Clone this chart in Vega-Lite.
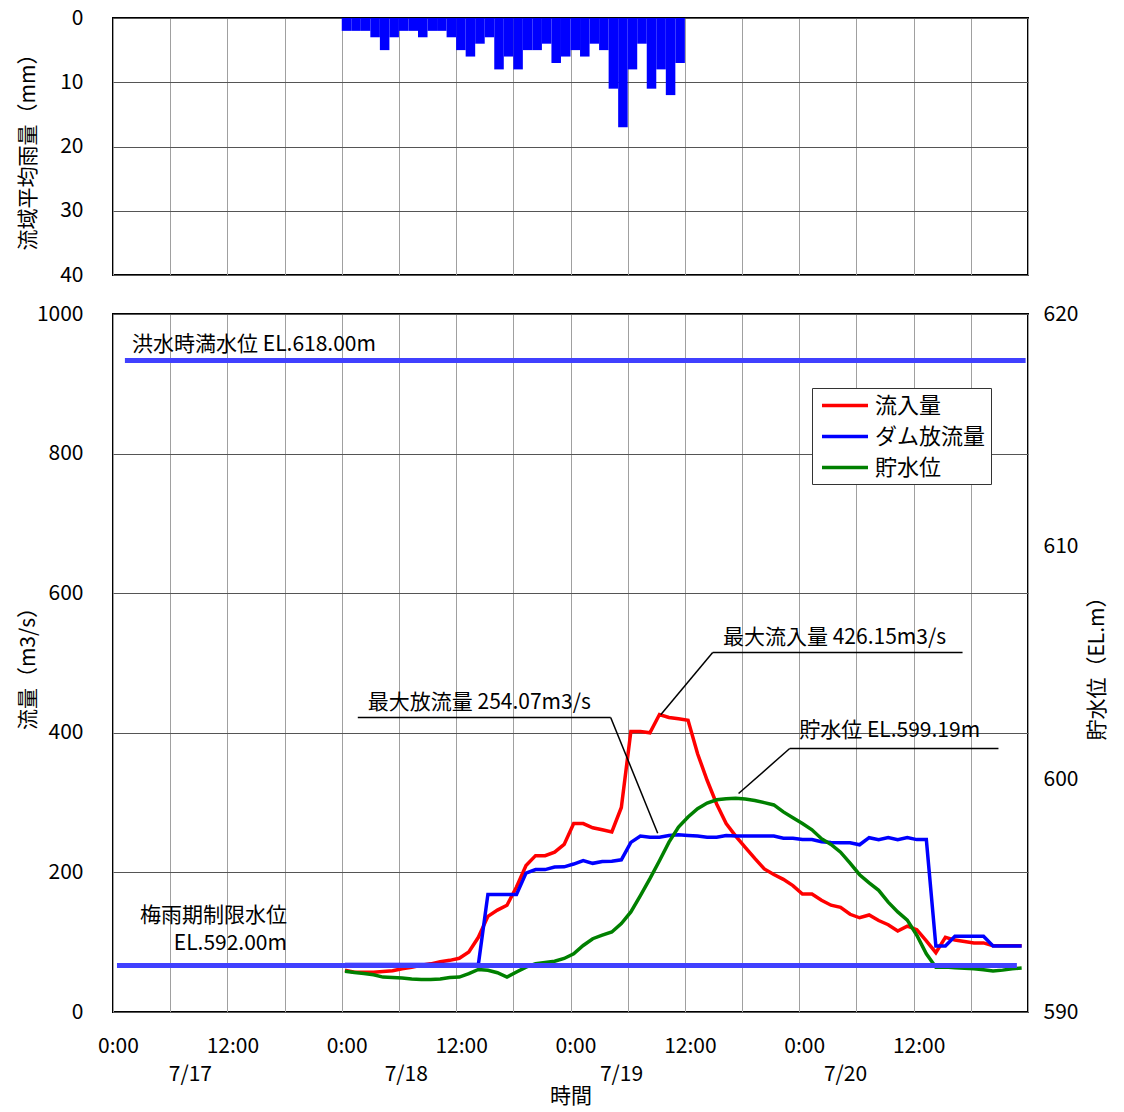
{
  "$schema": "https://vega.github.io/schema/vega-lite/v6.json",
  "background": "white",
  "padding": {"left": 16, "top": 6, "right": 5, "bottom": 4},
  "bounds": "flush",
  "spacing": 39,
  "config": {
    "view": {"stroke": "#000", "strokeWidth": 2},
    "font": "Noto Sans CJK JP",
    "axis": {
      "labelFontSize": 21, "titleFontSize": 21, "titleFontWeight": "normal",
      "labelColor": "#000", "titleColor": "#000", "tickColor": "#000",
      "domain": false, "labelOverlap": false
    },
    "text": {"fontSize": 21, "color": "#000"}
  },
  "datasets": {
    "rain": [
      {"start": "2020-07-18T00:00", "end": "2020-07-18T01:00", "rain": 2},
      {"start": "2020-07-18T01:00", "end": "2020-07-18T02:00", "rain": 2},
      {"start": "2020-07-18T02:00", "end": "2020-07-18T03:00", "rain": 2},
      {"start": "2020-07-18T03:00", "end": "2020-07-18T04:00", "rain": 3},
      {"start": "2020-07-18T04:00", "end": "2020-07-18T05:00", "rain": 5},
      {"start": "2020-07-18T05:00", "end": "2020-07-18T06:00", "rain": 3},
      {"start": "2020-07-18T06:00", "end": "2020-07-18T07:00", "rain": 2},
      {"start": "2020-07-18T07:00", "end": "2020-07-18T08:00", "rain": 2},
      {"start": "2020-07-18T08:00", "end": "2020-07-18T09:00", "rain": 3},
      {"start": "2020-07-18T09:00", "end": "2020-07-18T10:00", "rain": 2},
      {"start": "2020-07-18T10:00", "end": "2020-07-18T11:00", "rain": 2},
      {"start": "2020-07-18T11:00", "end": "2020-07-18T12:00", "rain": 3},
      {"start": "2020-07-18T12:00", "end": "2020-07-18T13:00", "rain": 5},
      {"start": "2020-07-18T13:00", "end": "2020-07-18T14:00", "rain": 6},
      {"start": "2020-07-18T14:00", "end": "2020-07-18T15:00", "rain": 4},
      {"start": "2020-07-18T15:00", "end": "2020-07-18T16:00", "rain": 3},
      {"start": "2020-07-18T16:00", "end": "2020-07-18T17:00", "rain": 8},
      {"start": "2020-07-18T17:00", "end": "2020-07-18T18:00", "rain": 6},
      {"start": "2020-07-18T18:00", "end": "2020-07-18T19:00", "rain": 8},
      {"start": "2020-07-18T19:00", "end": "2020-07-18T20:00", "rain": 5},
      {"start": "2020-07-18T20:00", "end": "2020-07-18T21:00", "rain": 5},
      {"start": "2020-07-18T21:00", "end": "2020-07-18T22:00", "rain": 4},
      {"start": "2020-07-18T22:00", "end": "2020-07-18T23:00", "rain": 7},
      {"start": "2020-07-18T23:00", "end": "2020-07-19T00:00", "rain": 6},
      {"start": "2020-07-19T00:00", "end": "2020-07-19T01:00", "rain": 5},
      {"start": "2020-07-19T01:00", "end": "2020-07-19T02:00", "rain": 6},
      {"start": "2020-07-19T02:00", "end": "2020-07-19T03:00", "rain": 4},
      {"start": "2020-07-19T03:00", "end": "2020-07-19T04:00", "rain": 5},
      {"start": "2020-07-19T04:00", "end": "2020-07-19T05:00", "rain": 11},
      {"start": "2020-07-19T05:00", "end": "2020-07-19T06:00", "rain": 17},
      {"start": "2020-07-19T06:00", "end": "2020-07-19T07:00", "rain": 8},
      {"start": "2020-07-19T07:00", "end": "2020-07-19T08:00", "rain": 4},
      {"start": "2020-07-19T08:00", "end": "2020-07-19T09:00", "rain": 11},
      {"start": "2020-07-19T09:00", "end": "2020-07-19T10:00", "rain": 8},
      {"start": "2020-07-19T10:00", "end": "2020-07-19T11:00", "rain": 12},
      {"start": "2020-07-19T11:00", "end": "2020-07-19T12:00", "rain": 7}
    ],
    "obs": [
      {"time": "2020-07-18T00:20", "流入量": 60, "ダム放流量": 68, "貯水位": 591.75},
      {"time": "2020-07-18T01:20", "流入量": 57, "ダム放流量": 68, "貯水位": 591.70},
      {"time": "2020-07-18T02:20", "流入量": 57, "ダム放流量": 68, "貯水位": 591.65},
      {"time": "2020-07-18T03:20", "流入量": 57, "ダム放流量": 68, "貯水位": 591.60},
      {"time": "2020-07-18T04:20", "流入量": 58, "ダム放流量": 68, "貯水位": 591.50},
      {"time": "2020-07-18T05:20", "流入量": 59, "ダム放流量": 68, "貯水位": 591.48},
      {"time": "2020-07-18T06:20", "流入量": 62, "ダム放流量": 68, "貯水位": 591.46},
      {"time": "2020-07-18T07:20", "流入量": 64, "ダム放流量": 68, "貯水位": 591.42},
      {"time": "2020-07-18T08:20", "流入量": 67, "ダム放流量": 68, "貯水位": 591.40},
      {"time": "2020-07-18T09:20", "流入量": 69, "ダム放流量": 68, "貯水位": 591.40},
      {"time": "2020-07-18T10:20", "流入量": 72, "ダム放流量": 68, "貯水位": 591.42},
      {"time": "2020-07-18T11:20", "流入量": 74, "ダム放流量": 68, "貯水位": 591.48},
      {"time": "2020-07-18T12:20", "流入量": 77, "ダム放流量": 68, "貯水位": 591.50},
      {"time": "2020-07-18T13:20", "流入量": 86, "ダム放流量": 68, "貯水位": 591.65},
      {"time": "2020-07-18T14:20", "流入量": 107, "ダム放流量": 68, "貯水位": 591.83},
      {"time": "2020-07-18T15:20", "流入量": 137, "ダム放流量": 168.5, "貯水位": 591.79},
      {"time": "2020-07-18T16:20", "流入量": 146, "ダム放流量": 168.5, "貯水位": 591.69},
      {"time": "2020-07-18T17:20", "流入量": 153, "ダム放流量": 168.5, "貯水位": 591.50},
      {"time": "2020-07-18T18:20", "流入量": 179, "ダム放流量": 168.5, "貯水位": 591.72},
      {"time": "2020-07-18T19:20", "流入量": 210, "ダム放流量": 199, "貯水位": 591.93},
      {"time": "2020-07-18T20:20", "流入量": 224, "ダム放流量": 204, "貯水位": 592.08},
      {"time": "2020-07-18T21:20", "流入量": 224, "ダム放流量": 204, "貯水位": 592.13},
      {"time": "2020-07-18T22:20", "流入量": 229, "ダム放流量": 207.6, "貯水位": 592.18},
      {"time": "2020-07-18T23:20", "流入量": 240, "ダム放流量": 208, "貯水位": 592.30},
      {"time": "2020-07-19T00:20", "流入量": 270, "ダム放流量": 212, "貯水位": 592.50},
      {"time": "2020-07-19T01:20", "流入量": 270, "ダム放流量": 217, "貯水位": 592.86},
      {"time": "2020-07-19T02:20", "流入量": 264, "ダム放流量": 213, "貯水位": 593.15},
      {"time": "2020-07-19T03:20", "流入量": 261, "ダム放流量": 215.7, "貯水位": 593.30},
      {"time": "2020-07-19T04:20", "流入量": 258, "ダム放流量": 216, "貯水位": 593.44},
      {"time": "2020-07-19T05:20", "流入量": 293, "ダム放流量": 218, "貯水位": 593.80},
      {"time": "2020-07-19T06:20", "流入量": 402, "ダム放流量": 243, "貯水位": 594.30},
      {"time": "2020-07-19T07:20", "流入量": 402, "ダム放流量": 252, "貯水位": 595.00},
      {"time": "2020-07-19T08:20", "流入量": 400, "ダム放流量": 250.5, "貯水位": 595.73},
      {"time": "2020-07-19T09:20", "流入量": 426.15, "ダム放流量": 250.5, "貯水位": 596.50},
      {"time": "2020-07-19T10:20", "流入量": 422, "ダム放流量": 253, "貯水位": 597.30},
      {"time": "2020-07-19T11:20", "流入量": 420, "ダム放流量": 254.07, "貯水位": 597.95},
      {"time": "2020-07-19T12:20", "流入量": 418, "ダム放流量": 253, "貯水位": 598.38},
      {"time": "2020-07-19T13:20", "流入量": 370, "ダム放流量": 252, "貯水位": 598.74},
      {"time": "2020-07-19T14:20", "流入量": 332, "ダム放流量": 250.5, "貯水位": 598.98},
      {"time": "2020-07-19T15:20", "流入量": 298, "ダム放流量": 250.5, "貯水位": 599.12},
      {"time": "2020-07-19T16:20", "流入量": 270, "ダム放流量": 253, "貯水位": 599.17},
      {"time": "2020-07-19T17:20", "流入量": 252, "ダム放流量": 252, "貯水位": 599.19},
      {"time": "2020-07-19T18:20", "流入量": 236, "ダム放流量": 252, "貯水位": 599.15},
      {"time": "2020-07-19T19:20", "流入量": 220, "ダム放流量": 252, "貯水位": 599.09},
      {"time": "2020-07-19T20:20", "流入量": 205, "ダム放流量": 252, "貯水位": 599.00},
      {"time": "2020-07-19T21:20", "流入量": 197, "ダム放流量": 252, "貯水位": 598.90},
      {"time": "2020-07-19T22:20", "流入量": 190, "ダム放流量": 249, "貯水位": 598.60},
      {"time": "2020-07-19T23:20", "流入量": 181, "ダム放流量": 249, "貯水位": 598.35},
      {"time": "2020-07-20T00:20", "流入量": 169, "ダム放流量": 247, "貯水位": 598.10},
      {"time": "2020-07-20T01:20", "流入量": 169, "ダム放流量": 247, "貯水位": 597.83},
      {"time": "2020-07-20T02:20", "流入量": 160, "ダム放流量": 244, "貯水位": 597.45},
      {"time": "2020-07-20T03:20", "流入量": 153, "ダム放流量": 243, "貯水位": 597.20},
      {"time": "2020-07-20T04:20", "流入量": 150, "ダム放流量": 242.5, "貯水位": 596.87},
      {"time": "2020-07-20T05:20", "流入量": 140, "ダム放流量": 242.5, "貯水位": 596.40},
      {"time": "2020-07-20T06:20", "流入量": 135, "ダム放流量": 239.6, "貯水位": 595.90},
      {"time": "2020-07-20T07:20", "流入量": 139, "ダム放流量": 249.7, "貯水位": 595.55},
      {"time": "2020-07-20T08:20", "流入量": 131, "ダム放流量": 247, "貯水位": 595.23},
      {"time": "2020-07-20T09:20", "流入量": 125, "ダム放流量": 250, "貯水位": 594.72},
      {"time": "2020-07-20T10:20", "流入量": 116, "ダム放流量": 247, "貯水位": 594.30},
      {"time": "2020-07-20T11:20", "流入量": 123, "ダム放流量": 250, "貯水位": 593.95},
      {"time": "2020-07-20T12:20", "流入量": 118, "ダム放流量": 247, "貯水位": 593.30},
      {"time": "2020-07-20T13:20", "流入量": 102, "ダム放流量": 247, "貯水位": 592.50},
      {"time": "2020-07-20T14:20", "流入量": 85, "ダム放流量": 94.5, "貯水位": 591.92},
      {"time": "2020-07-20T15:20", "流入量": 107, "ダム放流量": 94.5, "貯水位": 591.93},
      {"time": "2020-07-20T16:20", "流入量": 103, "ダム放流量": 108.4, "貯水位": 591.90},
      {"time": "2020-07-20T17:20", "流入量": 101, "ダム放流量": 108.4, "貯水位": 591.88},
      {"time": "2020-07-20T18:20", "流入量": 99, "ダム放流量": 108.4, "貯水位": 591.86},
      {"time": "2020-07-20T19:20", "流入量": 99, "ダム放流量": 108.4, "貯水位": 591.82},
      {"time": "2020-07-20T20:20", "流入量": 95, "ダム放流量": 94.5, "貯水位": 591.76},
      {"time": "2020-07-20T21:20", "流入量": 95, "ダム放流量": 94.5, "貯水位": 591.80},
      {"time": "2020-07-20T22:20", "流入量": 95, "ダム放流量": 94.5, "貯水位": 591.86},
      {"time": "2020-07-20T23:20", "流入量": 95, "ダム放流量": 94.5, "貯水位": 591.89}
    ],
    "refs": [
      {"start": "2020-07-17T01:15", "end": "2020-07-20T23:45", "level": 618},
      {"start": "2020-07-17T00:25", "end": "2020-07-20T22:50", "level": 592}
    ],
    "notesLeft": [
      {"time": "2020-07-17T02:00", "value": 956, "label": "洪水時満水位 EL.618.00m"},
      {"time": "2020-07-18T02:44", "value": 443, "label": "最大放流量 254.07m3/s"},
      {"time": "2020-07-19T16:00", "value": 536, "label": "最大流入量 426.15m3/s"},
      {"time": "2020-07-20T00:00", "value": 402, "label": "貯水位 EL.599.19m"}
    ],
    "notesRight": [
      {"time": "2020-07-17T18:15", "value": 137, "label": "梅雨期制限水位"},
      {"time": "2020-07-17T18:15", "value": 97, "label": "EL.592.00m"}
    ],
    "leaders": [
      {"t1": "2020-07-18T01:41", "v1": 422, "t2": "2020-07-19T04:13", "v2": 422},
      {"t1": "2020-07-19T04:13", "v1": 422, "t2": "2020-07-19T09:09", "v2": 256},
      {"t1": "2020-07-19T14:55", "v1": 515, "t2": "2020-07-20T17:08", "v2": 515},
      {"t1": "2020-07-19T14:55", "v1": 515, "t2": "2020-07-19T09:28", "v2": 426},
      {"t1": "2020-07-19T23:00", "v1": 377.5, "t2": "2020-07-20T20:54", "v2": 377.5},
      {"t1": "2020-07-19T23:00", "v1": 377.5, "t2": "2020-07-19T17:38", "v2": 313}
    ]
  },
  "vconcat": [
    {
      "width": 915,
      "height": 257,
      "data": {"name": "rain"},
      "mark": {"type": "rect", "color": "#0000ff"},
      "encoding": {
        "x": {
          "field": "start", "type": "temporal",
          "scale": {"domain": ["2020-07-17T00:00", "2020-07-21T00:00"]},
          "axis": {"orient": "top", "labels": false, "tickCount": 16, "tickSize": 0, "grid": true, "gridColor": "#a0a0a0", "title": null}
        },
        "x2": {"field": "end"},
        "y": {
          "field": "rain", "type": "quantitative",
          "scale": {"domain": [0, 40], "reverse": true, "nice": false},
          "axis": {"values": [0, 10, 20, 30, 40], "grid": true, "gridColor": "#555", "tickSize": 0, "labelPadding": 30, "minExtent": 77, "titlePadding": -2, "title": "流域平均雨量（mm）"}
        },
        "y2": {"datum": 0}
      }
    },
    {
      "width": 915,
      "height": 698,
      "resolve": {"scale": {"y": "independent"}},
      "layer": [
        {
          "layer": [
            {
              "data": {"name": "obs"},
              "transform": [{"fold": ["流入量", "ダム放流量"], "as": ["系列", "流量"]}],
              "mark": {"type": "line", "strokeWidth": 3.5},
              "encoding": {
                "x": {
                  "field": "time", "type": "temporal",
                  "scale": {"domain": ["2020-07-17T00:00", "2020-07-21T00:00"]},
                  "axis": {
                    "orient": "bottom", "tickCount": 16, "tickSize": 0, "grid": true, "gridColor": "#a0a0a0",
                    "labelPadding": 23, "labelOffset": 5, "labelFlush": false, "title": null,
                    "labelExpr": "hours(datum.value) % 12 == 0 && datum.index < 1 ? timeFormat(datum.value, '%-H:%M') : ''"
                  }
                },
                "y": {
                  "field": "流量", "type": "quantitative",
                  "scale": {"domain": [0, 1000], "nice": false},
                  "axis": {"values": [0, 200, 400, 600, 800, 1000], "format": "d", "grid": true, "gridColor": "#555", "tickSize": 0, "labelPadding": 30, "minExtent": 77, "titlePadding": -2, "title": "流量（m3/s）"}
                },
                "color": {
                  "field": "系列", "type": "nominal",
                  "scale": {"domain": ["流入量", "ダム放流量", "貯水位"], "range": ["#ff0000", "#0000ff", "#008000"]},
                  "legend": {
                    "title": null, "orient": "none", "legendX": 699, "legendY": 370,
                    "symbolType": "M-0.714,0H3.667", "symbolSize": 441, "symbolStrokeWidth": 3.5,
                    "labelFontSize": 22, "labelOffset": 33, "padding": 5, "rowPadding": 7,
                    "strokeColor": "#333", "fillColor": "#fff", "cornerRadius": 0
                  }
                }
              }
            },
            {
              "data": {"name": "notesLeft"},
              "mark": {"type": "text", "align": "left", "baseline": "middle"},
              "encoding": {
                "x": {"field": "time", "type": "temporal"},
                "y": {"field": "value", "type": "quantitative"},
                "text": {"field": "label"}
              }
            },
            {
              "data": {"name": "notesRight"},
              "mark": {"type": "text", "align": "right", "baseline": "middle"},
              "encoding": {
                "x": {"field": "time", "type": "temporal"},
                "y": {"field": "value", "type": "quantitative"},
                "text": {"field": "label"}
              }
            },
            {
              "data": {"name": "leaders"},
              "mark": {"type": "rule", "color": "#000", "strokeWidth": 1.5},
              "encoding": {
                "x": {"field": "t1", "type": "temporal"},
                "x2": {"field": "t2"},
                "y": {"field": "v1", "type": "quantitative"},
                "y2": {"field": "v2"}
              }
            }
          ]
        },
        {
          "layer": [
            {
              "data": {"name": "obs"},
              "transform": [{"fold": ["貯水位"], "as": ["系列", "水位"]}],
              "mark": {"type": "line", "strokeWidth": 3.5},
              "encoding": {
                "x": {"field": "time", "type": "temporal"},
                "y": {
                  "field": "水位", "type": "quantitative",
                  "scale": {"domain": [590, 620], "nice": false},
                  "axis": {"orient": "right", "values": [590, 600, 610, 620], "grid": false, "tickSize": 0, "labelPadding": 15, "titlePadding": 9, "titleAngle": 270, "titleBaseline": "top", "title": "貯水位（EL.m）"}
                },
                "color": {"field": "系列", "type": "nominal"}
              }
            },
            {
              "data": {"name": "refs"},
              "mark": {"type": "rule", "color": "#4040ff", "strokeWidth": 5},
              "encoding": {
                "x": {"field": "start", "type": "temporal"},
                "x2": {"field": "end"},
                "y": {"field": "level", "type": "quantitative"}
              }
            }
          ]
        }
      ]
    },
    {
      "width": 915,
      "height": 1,
      "view": {"stroke": null},
      "data": {"name": "refs"},
      "mark": {"type": "rule", "opacity": 0},
      "encoding": {
        "x": {
          "field": "start", "type": "temporal",
          "scale": {"domain": ["2020-07-17T00:00", "2020-07-21T00:00"]},
          "axis": {
            "orient": "bottom", "ticks": false, "grid": false, "labelPadding": 11,
            "values": [
              {"year": 2020, "month": 7, "date": 17, "hours": 8, "minutes": 4},
              {"year": 2020, "month": 7, "date": 18, "hours": 6, "minutes": 43},
              {"year": 2020, "month": 7, "date": 19, "hours": 5, "minutes": 18},
              {"year": 2020, "month": 7, "date": 20, "hours": 4, "minutes": 48}
            ],
            "labelExpr": "timeFormat(datum.value, '%-m/%-d')",
            "title": "時間", "titlePadding": 1
          }
        }
      }
    }
  ]
}
